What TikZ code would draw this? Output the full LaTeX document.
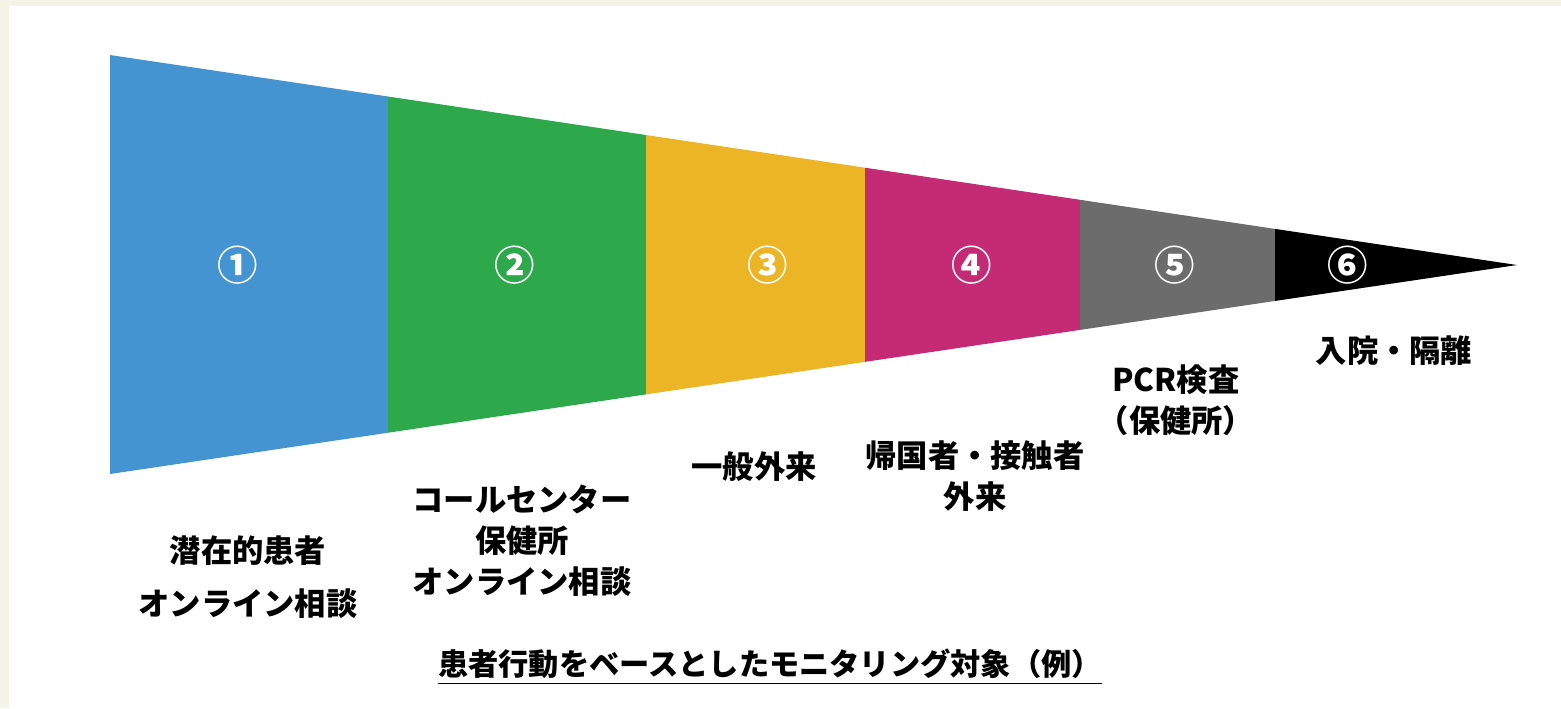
\documentclass[tikz,border=0pt]{standalone}
\usepackage{fontspec}
\newfontfamily\jpfont{Noto Sans CJK JP}
\usetikzlibrary{positioning,calc}
\definecolor{framebg}{HTML}{F3F3E7}
\definecolor{segblue}{HTML}{4394D0}
\definecolor{seggreen}{HTML}{2DA84A}
\definecolor{segyellow}{HTML}{ECB525}
\definecolor{segmagenta}{HTML}{C52B74}
\definecolor{seggray}{HTML}{6C6C6C}
\tikzstyle{stagenum} = [text=white, inner sep=0pt, font=\jpfont\bfseries\fontsize{11.5}{14}\selectfont]
\tikzstyle{stage} = [align=center, inner sep=0pt, text=black, font=\jpfont\bfseries\fontsize{8.9}{11.7}\selectfont]
\tikzstyle{wide} = [font=\jpfont\bfseries\fontsize{8.9}{15.1}\selectfont]
\tikzstyle{caption} = [inner sep=0pt, text=black, font=\jpfont\bfseries\fontsize{8.6}{10}\selectfont]

\begin{document}
\begin{tikzpicture}[x=0.01cm, y=-0.01cm]
	% Background
	\fill[framebg] (0,0) rectangle (1561,708);
	\fill[white] (9,6) rectangle (1561,708);
	\useasboundingbox (0,0) rectangle (1561,708);
	
	% Funnel
	\coordinate (top) at (110,55);
	\coordinate (bottom) at (110,474);
	\coordinate (tip) at (1517,265);
	\begin{scope}
		\clip (top) -- (tip) -- (bottom) -- cycle;
		\foreach \xa/\xb/\col in {110/388/segblue, 388/646/seggreen, 646/865/segyellow, 865/1080/segmagenta, 1080/1275/seggray, 1275/1530/black}
			\fill[\col] (\xa,0) rectangle (\xb,708);
	\end{scope}
	
	% Numbers
	\node[stagenum] (one) at (238,265) {①};
	\node[stagenum] (two) at (515,265) {②};
	\node[stagenum] (three) at (768,265) {③};
	\node[stagenum] (four) at (972,265) {④};
	\node[stagenum] (five) at (1175,265) {⑤};
	\node[stagenum] (six) at (1348,265) {⑥};
	
	% Labels
	\node[stage, wide] (potential) at (248,577) {潜在的患者\\オンライン相談};
	\node[stage] (callcenter) at (522,541) {コールセンター\\保健所\\オンライン相談};
	\node[stage] (outpatient) at (754,467) {一般外来};
	\node[stage] (returnee) at (975,476) {帰国者・接触者\\外来};
	\node[stage] (pcr) at (1176,400) {PCR検査\\（保健所）};
	\node[stage] (hospital) at (1394,351) {入院・隔離};
	
	% Caption
	\node[caption] (title) at (770,667) {\underline{患者行動をベースとしたモニタリング対象（例）}};
\end{tikzpicture}
\end{document}
